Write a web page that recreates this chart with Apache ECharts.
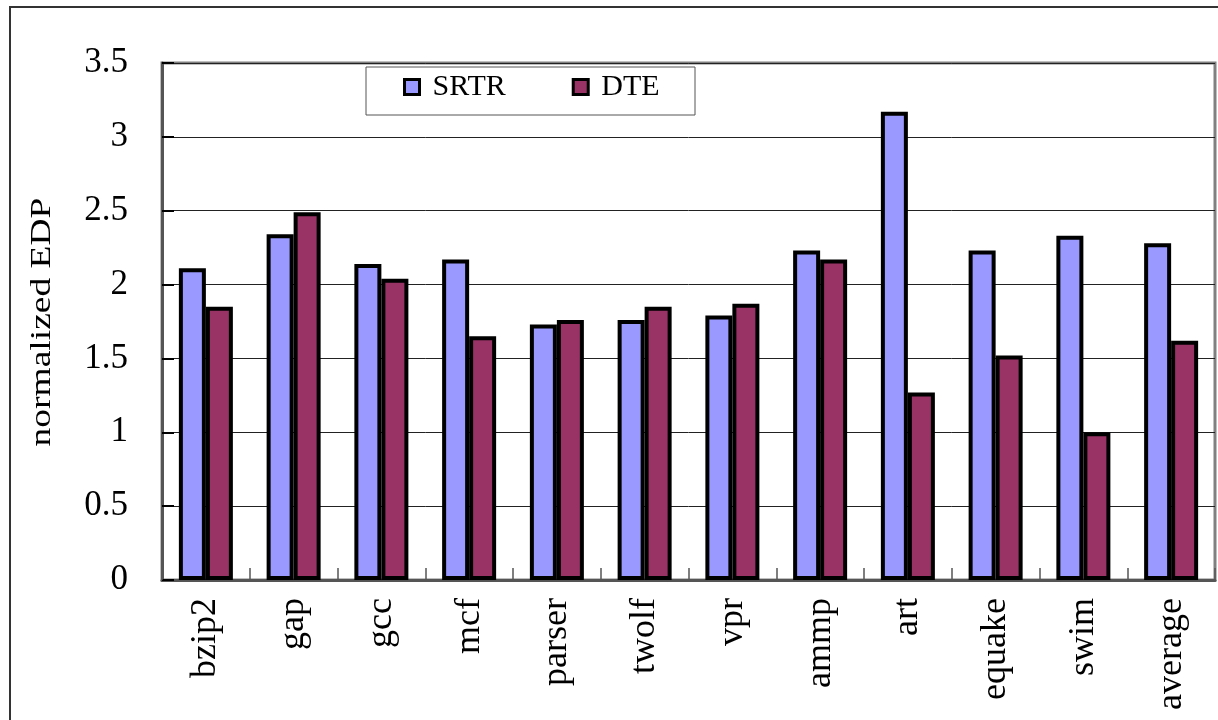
<!DOCTYPE html>
<html>
<head>
<meta charset="utf-8">
<script src="https://cdn.jsdelivr.net/npm/echarts@6/dist/echarts.min.js"></script>
<style>
html,body{margin:0;padding:0;background:#fff;}
#chart{width:1218px;height:720px;}
</style>
</head>
<body>
<div id="chart"></div>
<script>
var categories = ['bzip2','gap','gcc','mcf','parser','twolf','vpr','ammp','art','equake','swim','average'];
var srtr = [2.11, 2.34, 2.14, 2.17, 1.73, 1.76, 1.79, 2.23, 3.17, 2.23, 2.33, 2.28];
var dte  = [1.85, 2.49, 2.04, 1.65, 1.76, 1.85, 1.87, 2.17, 1.27, 1.52, 1.00, 1.62];
var yTicks = [0, 0.5, 1, 1.5, 2, 2.5, 3, 3.5];

var FONT = 'Liberation Serif';
var chart = echarts.init(document.getElementById('chart'), null, {renderer:'canvas'});
chart.setOption({
  backgroundColor:'#fff',
  animation:false,
  textStyle:{fontFamily:FONT,color:'#000'},
  grid:{left:162, top:63, right:3, bottom:140, show:true, borderColor:'#808080', borderWidth:3, containLabel:false},
  graphic:[
    {type:'polyline', z:0, shape:{points:[[10,730],[10,7],[1230,7]]}, style:{stroke:'#333', lineWidth:2, fill:null}},
    {type:'rect', z:0, shape:{x:366, y:67, width:329, height:48}, style:{fill:'#fff', stroke:'#555', lineWidth:1}},
    {type:'text', z:5, x:42, y:322, rotation:Math.PI/2, scaleX:1.25, scaleY:1,
     style:{text:'normalized EDP', fontFamily:FONT, fontSize:30, fill:'#000', align:'center', verticalAlign:'middle'}}
  ],
  legend:{
    left:403, top:72, padding:0, itemGap:66, itemWidth:15, itemHeight:15, icon:'rect',
    itemStyle:{borderColor:'#000', borderWidth:3},
    textStyle:{fontFamily:FONT, fontSize:30, color:'#000', padding:[0,0,0,8]},
    data:['SRTR','DTE']
  },
  xAxis:{
    type:'category', data:categories,
    axisLine:{show:true, lineStyle:{color:'#555', width:3}},
    axisTick:{show:true, inside:true, length:12, lineStyle:{color:'#555', width:1.5}},
    axisLabel:{rotate:90, margin:18, fontFamily:FONT, fontSize:36, color:'#000', interval:0},
    splitLine:{show:false}
  },
  yAxis:{
    type:'value', min:yTicks[0], max:yTicks[yTicks.length-1], interval:0.5,
    axisLine:{show:true, lineStyle:{color:'#555', width:3}},
    axisTick:{show:true, inside:true, length:12, lineStyle:{color:'#000', width:2}},
    axisLabel:{margin:34, fontFamily:FONT, fontSize:35, color:'#000'},
    splitLine:{show:true, lineStyle:{color:'#222', width:1}}
  },
  series:[
    {name:'SRTR', type:'bar', data:srtr, barWidth:27, barGap:'0%',
     itemStyle:{color:'#9999FF', borderColor:'#000', borderWidth:4}},
    {name:'DTE', type:'bar', data:dte, barWidth:27,
     itemStyle:{color:'#993366', borderColor:'#000', borderWidth:4}}
  ]
});
</script>
</body>
</html>
